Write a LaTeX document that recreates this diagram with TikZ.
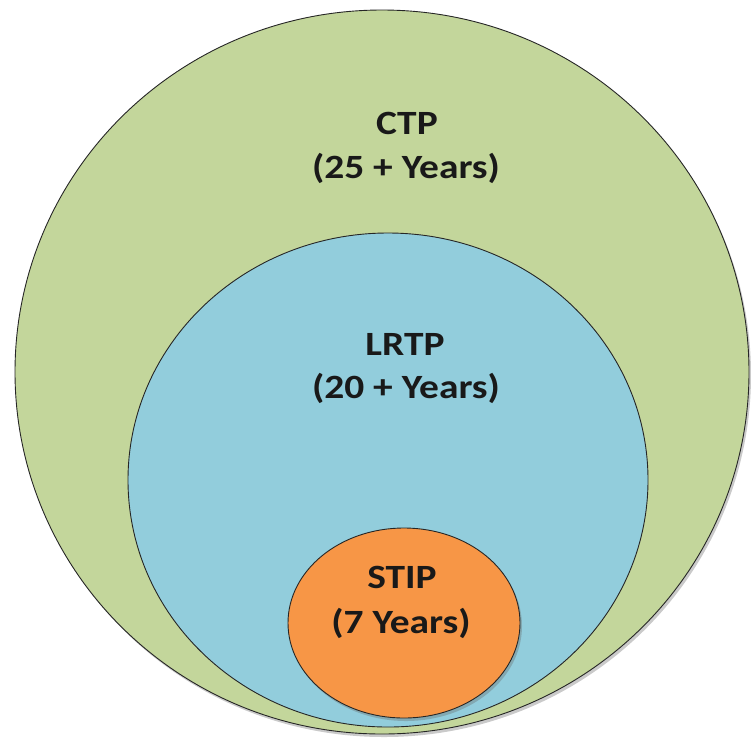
\documentclass[tikz,border=0pt]{standalone}
\usepackage{fontspec}
\setmainfont{Carlito}
\newfontfamily\lblfont[FakeStretch=1.16]{Carlito}
\usetikzlibrary{shapes.geometric,shadows}
\definecolor{ctpgreen}{HTML}{C3D69B}
\definecolor{lrtpblue}{HTML}{92CDDC}
\definecolor{stiporange}{HTML}{F79646}
\tikzset{
  ring/.style={ellipse, draw=black!85, line width=0.9pt, inner sep=0pt},
  lbl/.style={anchor=base, font=\lblfont\fontsize{34}{40}\selectfont\bfseries, text=black!90, inner sep=0pt},
  shd/.style={drop shadow={shadow xshift=2pt, shadow yshift=-3pt, opacity=0.35, fill=black!60}}
}
\begin{document}
\begin{tikzpicture}[x=1pt,y=-1pt]
\useasboundingbox (0,0) rectangle (751,740);
\node[ring, shd, fill=ctpgreen, minimum width=734pt, minimum height=724pt] (ctp) at (382,372) {};
\node[ring, fill=lrtpblue, minimum width=520pt, minimum height=494pt] (lrtp) at (388,480) {};
\node[ring, shd, fill=stiporange, minimum width=232pt, minimum height=190pt] (stip) at (404,623) {};
\node[lbl] (ctp1) at (407,134) {CTP};
\node[lbl] (ctp2) at (406,178) {(25 + Years)};
\node[lbl] (lrtp1) at (405,355) {LRTP};
\node[lbl] (lrtp2) at (406,398) {(20 + Years)};
\node[lbl] (stip1) at (402,588) {STIP};
\node[lbl] (stip2) at (401,633) {(7 Years)};
\end{tikzpicture}
\end{document}
